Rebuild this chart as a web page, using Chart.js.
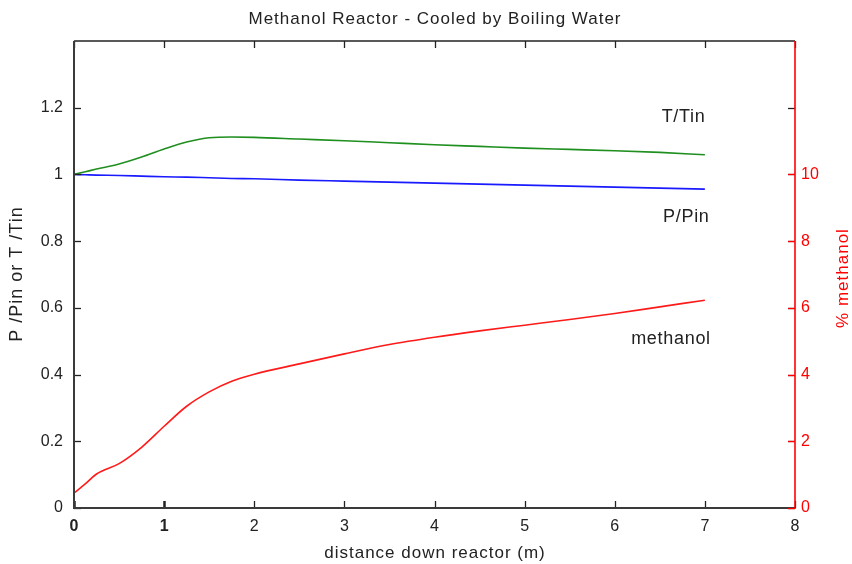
<!DOCTYPE html>
<html><head><meta charset="utf-8">
<script src="https://cdn.jsdelivr.net/npm/chart.js@4"></script>
<style>html,body{margin:0;padding:0;background:#fff}#wrap{width:852px;height:564px;position:relative}</style>
</head><body><div id="wrap"><canvas id="c"></canvas></div>
<script>
const distance = [0,0.125,0.25,0.5,0.75,1.0,1.25,1.5,1.75,2.0,2.5,3.0,3.5,4.0,4.5,5.0,5.5,6.0,6.5,7.0];
const tRatio = [1.000,1.008,1.016,1.031,1.052,1.076,1.097,1.110,1.112,1.111,1.106,1.101,1.095,1.089,1.084,1.079,1.075,1.071,1.066,1.059];
const pRatio = [1.000,0.999,0.998,0.997,0.995,0.993,0.992,0.990,0.988,0.987,0.983,0.980,0.977,0.974,0.971,0.968,0.965,0.962,0.959,0.956];
const methanolPct = [0.45,0.72,1.02,1.33,1.82,2.45,3.05,3.48,3.80,4.01,4.32,4.62,4.90,5.12,5.31,5.48,5.65,5.83,6.03,6.23];
const xTickValues = [0,1,2,3,4,5,6,7,8];
const leftTickValues = [0,0.2,0.4,0.6,0.8,1,1.2];
const rightTickValues = [0,2,4,6,8,10];
const curveLabels = ['T/Tin','P/Pin','methanol'];
const chartTitle = 'Methanol Reactor - Cooled by Boiling Water';
const xTitle = 'distance down reactor (m)';
const yTitle = 'P /Pin or T /Tin';
const y2Title = '% methanol';

const FAM = "'Liberation Sans', Arial, sans-serif";
const labelSpots = [{x:6.76,y:1.172},{x:6.79,y:0.872},{x:6.62,y:0.507}];

function spaced(ctx, text, x, y, sp){
  ctx.letterSpacing = sp + 'px';
  // compensate trailing spacing so the text stays centred
  ctx.fillText(text, x + sp/2, y);
  ctx.letterSpacing = '0px';
}

const frame = {
  id:'frame',
  afterDatasetsDraw(chart){
    const {ctx, chartArea:a, scales} = chart;
    const xs = scales.x, ys = scales.y, y2 = scales.y2;
    ctx.save();
    ctx.textAlign = 'center'; ctx.textBaseline = 'middle';
    // curve labels
    ctx.fillStyle = '#222';
    ctx.font = "18px " + FAM;
    curveLabels.forEach((t,i)=>{
      const p = labelSpots[i];
      spaced(ctx, t, xs.getPixelForValue(p.x), ys.getPixelForValue(p.y), 0.7);
    });
    const TL = 7;
    ctx.strokeStyle = '#222';
    xTickValues.forEach(v=>{
      const px = Math.round(xs.getPixelForValue(v)) + 0.5;
      ctx.lineWidth = v <= 1 ? 2.5 : 1.3;
      ctx.beginPath(); ctx.moveTo(px, a.bottom); ctx.lineTo(px, a.bottom - TL); ctx.stroke();
      ctx.lineWidth = 1.3;
      ctx.beginPath(); ctx.moveTo(px, a.top); ctx.lineTo(px, a.top + TL); ctx.stroke();
    });
    ctx.lineWidth = 1.3;
    leftTickValues.forEach(v=>{
      const py = Math.round(ys.getPixelForValue(v)) + 0.5;
      ctx.beginPath(); ctx.moveTo(a.left, py); ctx.lineTo(a.left + TL, py); ctx.stroke();
      ctx.beginPath(); ctx.moveTo(a.right, py); ctx.lineTo(a.right - TL, py); ctx.stroke();
    });
    ctx.strokeStyle = '#222'; ctx.lineWidth = 1.5;
    ctx.beginPath(); ctx.moveTo(a.left, a.top); ctx.lineTo(a.right, a.top); ctx.stroke();
    ctx.strokeStyle = '#3a3a3a'; ctx.lineWidth = 2;
    ctx.beginPath(); ctx.moveTo(a.left, a.top); ctx.lineTo(a.left, a.bottom); ctx.lineTo(a.right, a.bottom); ctx.stroke();
    ctx.strokeStyle = '#ff0000'; ctx.lineWidth = 1.6;
    ctx.beginPath(); ctx.moveTo(a.right, a.top); ctx.lineTo(a.right, a.bottom + 1); ctx.stroke();
    ctx.lineWidth = 1.3;
    rightTickValues.forEach(v=>{
      const py = Math.round(y2.getPixelForValue(v)) + 0.5;
      ctx.beginPath(); ctx.moveTo(a.right, py); ctx.lineTo(a.right - TL, py); ctx.stroke();
    });
    // chart title
    ctx.fillStyle = '#222';
    ctx.font = "17px " + FAM;
    spaced(ctx, chartTitle, (a.left + a.right)/2, 19, 1);
    // x title
    spaced(ctx, xTitle, (a.left + a.right)/2, 553, 1);
    // left y title
    ctx.save();
    ctx.font = "18px " + FAM;
    ctx.translate(17, (a.top + a.bottom)/2);
    ctx.rotate(-Math.PI/2);
    spaced(ctx, yTitle, 0, 0, 1);
    ctx.restore();
    // right axis title
    ctx.save();
    ctx.fillStyle = '#ff0000';
    ctx.font = "17px " + FAM;
    ctx.translate(843, (a.top + a.bottom)/2 + 4);
    ctx.rotate(-Math.PI/2);
    spaced(ctx, y2Title, 0, 0, 1);
    ctx.restore();
    ctx.restore();
  }
};

const mk = (ys) => distance.map((d,i)=>({x:d, y:ys[i]}));

new Chart(document.getElementById('c'), {
  type:'line',
  data:{datasets:[
    {label:'T/Tin', data:mk(tRatio), yAxisID:'y', borderColor:'#1f8f1f', borderWidth:1.6, pointRadius:0, cubicInterpolationMode:'monotone'},
    {label:'P/Pin', data:mk(pRatio), yAxisID:'y', borderColor:'#1a1aff', borderWidth:1.6, pointRadius:0, cubicInterpolationMode:'monotone'},
    {label:'methanol', data:mk(methanolPct), yAxisID:'y2', borderColor:'#ff1a1a', borderWidth:1.6, pointRadius:0, cubicInterpolationMode:'monotone'}
  ]},
  options:{
    responsive:true, maintainAspectRatio:false, animation:false,
    layout:{padding:{top:41, left:0, right:0, bottom:0}},
    plugins:{ legend:{display:false}, tooltip:{enabled:false}, title:{display:false} },
    scales:{
      x:{type:'linear', min:0, max:8,
        afterBuildTicks(s){ s.ticks = xTickValues.map(v=>({value:v})); },
        afterFit(s){ s.height = 56; },
        grid:{display:false, drawTicks:false}, border:{display:false},
        ticks:{color:'#222', padding:9, maxRotation:0,
          font:(c)=>({family:FAM, size:16, weight:(c.tick && c.tick.value <= 1) ? 'bold' : 'normal'}),
          callback:(v)=>String(v)}
      },
      y:{type:'linear', position:'left', min:0, max:1.4,
        afterBuildTicks(s){ s.ticks = leftTickValues.map(v=>({value:v})); },
        afterFit(s){ s.width = 74; },
        grid:{display:false, drawTicks:false}, border:{display:false},
        ticks:{color:'#222', padding:11, font:{family:FAM, size:16}, callback:(v)=>String(Math.round(v*10)/10)}
      },
      y2:{type:'linear', position:'right', min:0, max:14,
        afterBuildTicks(s){ s.ticks = rightTickValues.map(v=>({value:v})); },
        afterFit(s){ s.width = 57; },
        grid:{display:false, drawTicks:false}, border:{display:false},
        ticks:{color:'#ff0000', padding:6, font:{family:FAM, size:16}, callback:(v)=>String(v)}
      }
    }
  },
  plugins:[frame]
});
</script></body></html>
